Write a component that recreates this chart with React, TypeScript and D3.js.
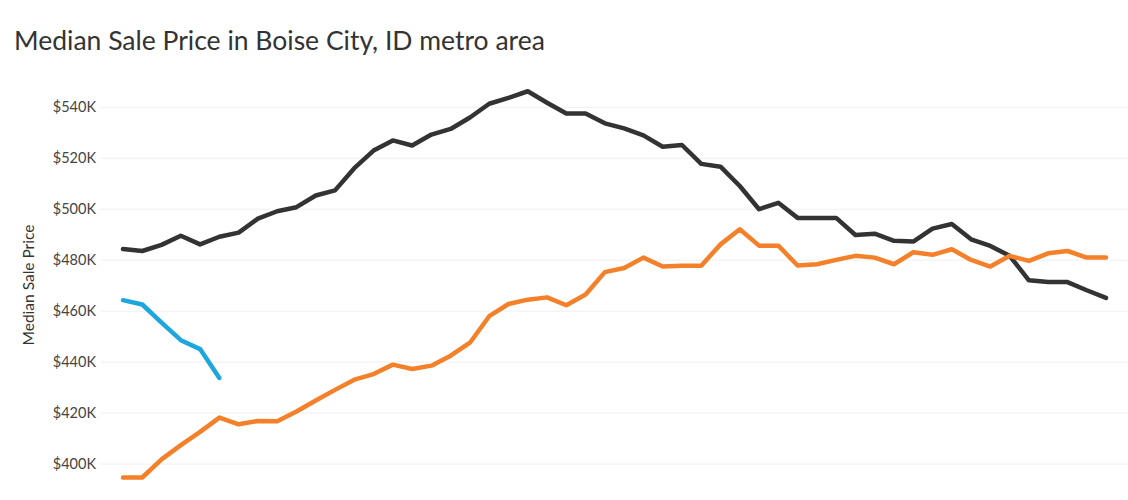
import React from 'react';
import * as d3 from 'd3';

// weekly median sale price, in $K
const blackValues = [
  484.4, 483.6, 486.0, 489.6, 486.2, 489.2, 490.8, 496.3, 499.2, 500.8,
  505.4, 507.4, 516.1, 523.0, 527.0, 525.0, 529.3, 531.5, 536.0, 541.4,
  543.7, 546.3, 541.8, 537.6, 537.6, 533.7, 531.7, 529.0, 524.5, 525.2,
  517.8, 516.7, 509.1, 500.0, 502.5, 496.6, 496.6, 496.6, 489.9, 490.4,
  487.6, 487.3, 492.4, 494.2, 488.2, 485.6, 481.7, 472.1, 471.4, 471.4,
  468.2, 465.2,
];
const orangeValues = [
  394.7, 394.7, 401.8, 407.4, 412.6, 418.2, 415.6, 416.9, 416.8, 420.6,
  424.9, 429.1, 433.1, 435.3, 439.0, 437.3, 438.6, 442.5, 447.6, 458.0,
  462.8, 464.5, 465.4, 462.3, 466.5, 475.3, 476.9, 481.0, 477.5, 477.8,
  477.8, 486.2, 492.1, 485.7, 485.7, 477.9, 478.4, 480.1, 481.7, 481.0,
  478.4, 483.1, 482.1, 484.3, 480.1, 477.5, 481.7, 479.7, 482.7, 483.6,
  481.0, 481.0,
];
const blueValues = [464.3, 462.6, 455.5, 448.6, 445.1, 433.8];

const yTicks = [400, 420, 440, 460, 480, 500, 520, 540];

const seriesList = [
  { name: 'black', values: blackValues, color: '#333333' },
  { name: 'orange', values: orangeValues, color: '#f5802a' },
  { name: 'blue', values: blueValues, color: '#1ea7dd' },
];

const width = 1128;
const height = 500;

export default function App() {
  const x = d3.scaleLinear().domain([0, 51]).range([123, 1106]);
  const y = d3.scaleLinear().domain([400, 540]).range([464, 107.3]);

  const line = d3
    .line<number>()
    .x((_, i) => x(i))
    .y((d) => y(d));

  return (
    <svg
      width={width}
      height={height}
      style={{ position: 'absolute', left: 0, top: 0, background: '#fff' }}
      fontFamily="Lato, 'Open Sans', sans-serif"
    >
      <text x={14} y={50} fontSize={26.5} fill="#333">
        Median Sale Price in Boise City, ID metro area
      </text>

      {yTicks.map((t) => (
        <g key={t}>
          <line x1={100} x2={width} y1={y(t)} y2={y(t)} stroke="#f0f0f0" strokeWidth={1} />
          <text
            x={96}
            y={y(t)}
            dy="0.35em"
            textAnchor="end"
            fontSize={14.5}
            fill="#444"
          >
            {`$${t}K`}
          </text>
        </g>
      ))}

      <text
        transform={`translate(34,285) rotate(-90)`}
        textAnchor="middle"
        fontSize={15.5}
        fill="#333"
      >
        Median Sale Price
      </text>

      {seriesList.map((s) => (
        <path
          key={s.name}
          d={line(s.values) ?? ''}
          fill="none"
          stroke={s.color}
          strokeWidth={4.5}
          strokeLinejoin="round"
          strokeLinecap="round"
        />
      ))}
    </svg>
  );
}
